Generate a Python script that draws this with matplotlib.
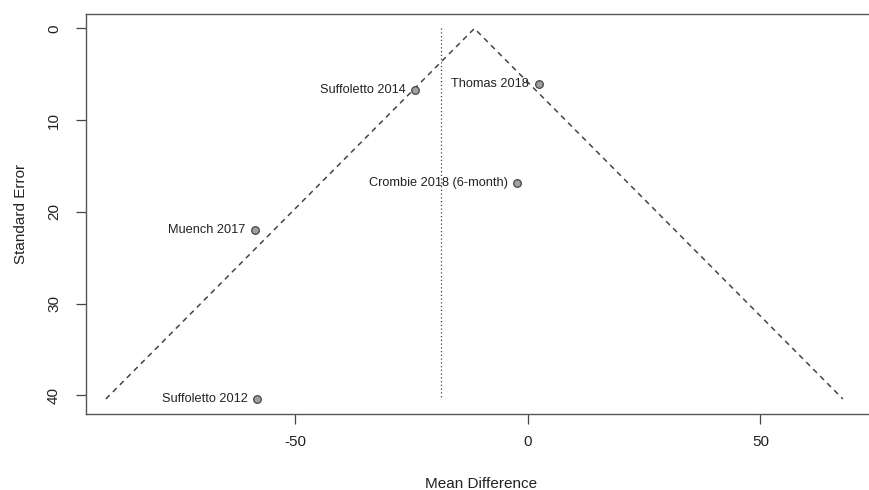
import numpy as np
import matplotlib
matplotlib.use("Agg")
import matplotlib.pyplot as plt

plt.rcParams["font.family"] = ["Liberation Sans", "DejaVu Sans"]
plt.rcParams["axes.unicode_minus"] = False

# study estimates
studies = ["Suffoletto 2014", "Thomas 2018", "Crombie 2018 (6-month)",
           "Muench 2017", "Suffoletto 2012"]
mean_diff = [-24.2, 2.4, -2.2, -58.6, -58.1]
std_err = [6.7, 6.05, 16.9, 22.0, 40.4]

funnel_center = -11.45
pooled_line = -18.6
z = 1.96

fig = plt.figure(figsize=(8.69, 4.90), dpi=100)
W, H = 869, 490
left, right = 86, 876.7
top, bottom = 14, 414
ax = fig.add_axes([left / W, 1 - bottom / H, (right - left) / W, (bottom - top) / H])

se_max = max(std_err)
se_grid = np.array([se_max, 0.0, se_max])
ax.plot(funnel_center + np.array([-z, 0, z]) * se_grid, se_grid,
        color="#444444", lw=1.1, ls=(0, (3.5, 3)))
ax.plot([pooled_line, pooled_line], [0, se_max], color="#444444", lw=0.9,
        ls=(0, (1, 2)))

ax.scatter(mean_diff, std_err, s=30, facecolor="#a0a0a0", edgecolor="#444444",
           linewidth=0.9, zorder=3)
for name, x, y in zip(studies, mean_diff, std_err):
    ax.annotate(name, (x, y), xytext=(-7, 0), textcoords="offset points",
                ha="right", va="center", fontsize=9.2, color="#222222")

ax.set_xlim(-94.9, 75)
ax.set_ylim(42.04, -1.58)
ax.set_xticks([-50, 0, 50])
ax.set_yticks([0, 10, 20, 30, 40])
ax.set_yticklabels(["0", "10", "20", "30", "40"], rotation=90, va="center")
ax.tick_params(labelsize=11, length=7, width=0.9, color="#444444",
               labelcolor="#222222", pad=8)
ax.tick_params(axis="y", pad=11)
for s in ax.spines.values():
    s.set_color("#555555")
    s.set_linewidth(1.0)

ax.set_xlabel("Mean Difference", fontsize=11, color="#222222", labelpad=20)
ax.set_ylabel("Standard Error", fontsize=11, color="#222222", labelpad=14)

fig.savefig("out.png", dpi=100)
